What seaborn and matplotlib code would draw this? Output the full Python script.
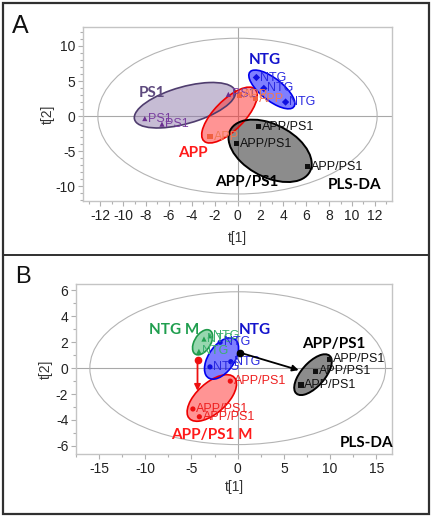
import numpy as np
import pandas as pd
import seaborn as sns
import matplotlib.pyplot as plt
from matplotlib.patches import Ellipse, Rectangle
from matplotlib.lines import Line2D
from matplotlib.ticker import MultipleLocator

# ---- panel A data (t[1], t[2] scores) ----
a_ntg_x = [1.65, 2.3, 4.2]
a_ntg_y = [5.5, 3.95, 2.0]
a_ps1_x = [-8.1, -6.6, -0.8]
a_ps1_y = [-0.35, -1.15, 3.1]
a_app_x = [-2.4, 0.15, 1.55]
a_app_y = [-2.95, 3.0, 2.5]
a_apps1_x = [1.85, -0.1, 6.1]
a_apps1_y = [-1.5, -3.95, -7.2]

# group ellipses: centre x, centre y, width, height, angle
a_ell_ntg = [3.0, 3.8, 6.4, 2.4, -57]
a_ell_ps1 = [-4.6, 1.55, 9.8, 4.9, 30]
a_ell_app = [-0.7, 0.15, 8.8, 3.1, 63]
a_ell_apps1 = [2.85, -4.95, 9.8, 6.0, -58]
a_hotelling = [24.4, 22.2]

# ---- panel B data ----
b_ntgm_x = [-3.0, -3.65, -4.2]
b_ntgm_y = [2.5, 2.25, 1.3]
b_ntg_x = [-1.9, -3.0, -0.75]
b_ntg_y = [2.0, 0.1, 0.5]
b_apps1m_x = [-0.8, -4.85, -4.15]
b_apps1m_y = [-1.0, -3.15, -3.75]
b_apps1_x = [9.9, 8.4, 6.85]
b_apps1_y = [0.7, -0.25, -1.3]

b_ell_ntgm = [-3.8, 2.0, 2.5, 1.5, 38]
b_ell_ntg = [-1.75, 0.75, 4.25, 2.4, 37]
b_ell_apps1m = [-2.8, -2.3, 5.9, 2.6, 28]
b_ell_apps1 = [8.15, -0.5, 4.7, 2.1, 34]
b_hotelling = [32.0, 11.8]

# arrows (start x, start y, end x, end y)
b_arrow_red = [-4.35, 0.6, -4.35, -1.75]
b_arrow_black = [0.25, 1.2, 6.6, -0.15]

sns.set_theme(style="white")
plt.rcParams['font.family'] = ['Liberation Sans', 'DejaVu Sans']
plt.rcParams['axes.unicode_minus'] = False

BOLD = ['Lato', 'DejaVu Sans']


def make_df(groups):
    rows = []
    for name, xs, ys in groups:
        for x, y in zip(xs, ys):
            rows.append({'group': name, 'x': x, 'y': y})
    return pd.DataFrame(rows)


def add_ellipse(ax, p, fc, ec, alpha, lw=1.2):
    ax.add_patch(Ellipse((p[0], p[1]), p[2], p[3], angle=p[4], fc=fc, alpha=alpha,
                         ec='none', zorder=2))
    ax.add_patch(Ellipse((p[0], p[1]), p[2], p[3], angle=p[4], fc='none', ec=ec,
                         lw=lw, zorder=2.1))


def style_axes(ax, xlim, ylim, xmaj, xmin, ymaj, ymin, hot):
    ax.set_xlim(*xlim)
    ax.set_ylim(*ylim)
    ax.xaxis.set_major_locator(MultipleLocator(xmaj))
    ax.xaxis.set_minor_locator(MultipleLocator(xmin))
    ax.yaxis.set_major_locator(MultipleLocator(ymaj))
    ax.yaxis.set_minor_locator(MultipleLocator(ymin))
    for s in ax.spines.values():
        s.set_color('#c4c4c4')
        s.set_linewidth(1.0)
    ax.tick_params(which='major', direction='out', length=3.5, width=0.8,
                   color='#b0b0b0', labelsize=10, labelcolor='#222222',
                   bottom=True, left=True, pad=2)
    ax.tick_params(which='minor', direction='out', length=2.5, width=0.8,
                   color='#b0b0b0', bottom=True, left=True)
    ax.axhline(0, color='#a8a8a8', lw=0.8, zorder=1)
    ax.axvline(0, color='#a8a8a8', lw=0.8, zorder=1)
    ax.add_patch(Ellipse((0, 0), hot[0], hot[1], fc='none', ec='#b4b4b4',
                         lw=0.8, zorder=1))


def set_labels(ax, xpos, ypos):
    ax.set_xlabel('t[1]', fontsize=10, color='#333333')
    ax.set_ylabel('t[2]', fontsize=10, color='#333333')
    ax.xaxis.set_label_coords(0.5, xpos)
    ax.yaxis.set_label_coords(ypos, 0.5)


def label_points(ax, xs, ys, text, color):
    for x, y in zip(xs, ys):
        ax.annotate(text, (x, y), xytext=(2.5, 0), textcoords='offset points',
                    ha='left', va='center', fontsize=9, color=color, zorder=4)


fig = plt.figure(figsize=(4.33, 5.19), dpi=100)

# ---------------- panel A ----------------
axA = fig.add_axes([83 / 433, 1 - 201 / 519, 309 / 433, 174 / 519])
style_axes(axA, (-13.5, 13.5), (-12.1, 12.7), 2, 1, 5, 1, a_hotelling)

add_ellipse(axA, a_ell_ps1, '#8f7aaa', '#4f3d6e', 0.5)
add_ellipse(axA, a_ell_app, '#ff2a2a', '#ee0000', 0.5)
add_ellipse(axA, a_ell_ntg, '#0000ff', '#0000ee', 0.5)
add_ellipse(axA, a_ell_apps1, '#3a3a3a', '#000000', 0.58, lw=1.4)

dfA = make_df([('NTG', a_ntg_x, a_ntg_y), ('PS1', a_ps1_x, a_ps1_y),
               ('APP', a_app_x, a_app_y), ('APP/PS1', a_apps1_x, a_apps1_y)])
palA = {'NTG': '#1010e0', 'PS1': '#6a2f8f', 'APP': '#f06040', 'APP/PS1': '#111111'}
mkA = {'NTG': 'D', 'PS1': '^', 'APP': 's', 'APP/PS1': 's'}
sns.scatterplot(data=dfA, x='x', y='y', hue='group', style='group', palette=palA,
                markers=mkA, s=14, linewidth=0, legend=False, ax=axA, zorder=3)
set_labels(axA, -0.172, -0.09)

label_points(axA, a_ntg_x, a_ntg_y, 'NTG', '#2a2ae0')
label_points(axA, a_ps1_x, a_ps1_y, 'PS1', '#7a3fa0')
label_points(axA, a_app_x, a_app_y, 'APP', '#f07a55')
label_points(axA, a_apps1_x, a_apps1_y, 'APP/PS1', '#111111')

for txt, x, y, c in [('NTG', 2.35, 8.0, '#1414cc'), ('PS1', -7.5, 3.3, '#5e4a7e'),
                     ('APP', -3.9, -5.3, '#ff1a1a'), ('APP/PS1', 0.8, -9.4, '#000000'),
                     ('PLS-DA', 10.2, -9.8, '#000000')]:
    axA.text(x, y, txt, ha='center', va='center', fontsize=11, fontweight='bold',
             family=BOLD, color=c, zorder=5)

# ---------------- panel B ----------------
axB = fig.add_axes([76 / 433, 1 - 454.3 / 519, 316 / 433, 170.3 / 519])
style_axes(axB, (-17.5, 16.7), (-6.65, 6.5), 5, 2.5, 2, 1, b_hotelling)

add_ellipse(axB, b_ell_ntgm, '#30b060', '#1f9a4a', 0.5)
add_ellipse(axB, b_ell_apps1m, '#ff2a2a', '#ee0000', 0.5)
add_ellipse(axB, b_ell_ntg, '#0000ff', '#0000ee', 0.5)
add_ellipse(axB, b_ell_apps1, '#3a3a3a', '#000000', 0.58, lw=1.4)

dfB = make_df([('NTG M', b_ntgm_x, b_ntgm_y), ('NTG', b_ntg_x, b_ntg_y),
               ('APP/PS1 M', b_apps1m_x, b_apps1m_y), ('APP/PS1', b_apps1_x, b_apps1_y)])
palB = {'NTG M': '#22a050', 'NTG': '#1010e0', 'APP/PS1 M': '#ee1010', 'APP/PS1': '#111111'}
mkB = {'NTG M': '^', 'NTG': 'o', 'APP/PS1 M': 'o', 'APP/PS1': 's'}
sns.scatterplot(data=dfB, x='x', y='y', hue='group', style='group', palette=palB,
                markers=mkB, s=14, linewidth=0, legend=False, ax=axB, zorder=3)
set_labels(axB, -0.151, -0.073)

label_points(axB, b_ntgm_x, b_ntgm_y, 'NTG', '#3cb070')
label_points(axB, b_ntg_x, b_ntg_y, 'NTG', '#2a2ae0')
label_points(axB, b_apps1m_x, b_apps1m_y, 'APP/PS1', '#ee2020')
label_points(axB, b_apps1_x, b_apps1_y, 'APP/PS1', '#111111')

for arr, c in [(b_arrow_red, '#ee1010'), (b_arrow_black, '#000000')]:
    axB.annotate('', xy=(arr[2], arr[3]), xytext=(arr[0], arr[1]),
                 arrowprops=dict(arrowstyle='-|>', color=c, lw=1.3,
                                 mutation_scale=9, shrinkA=0, shrinkB=0), zorder=4)
    axB.plot(arr[0], arr[1], 'o', color=c, ms=4.5, zorder=4)

for txt, x, y, c in [('NTG M', -6.85, 2.96, '#1f9e4e'), ('NTG', 1.87, 2.96, '#1414cc'),
                     ('APP/PS1', 10.35, 1.86, '#000000'),
                     ('APP/PS1 M', -2.8, -5.16, '#ff1a1a'),
                     ('PLS-DA', 13.96, -5.8, '#000000')]:
    axB.text(x, y, txt, ha='center', va='center', fontsize=11, fontweight='bold',
             family=BOLD, color=c, zorder=5)

# panel letters and frame
fig.text(12 / 433, 1 - 33 / 519, 'A', fontsize=18, color='#111111')
fig.text(15 / 433, 1 - 283 / 519, 'B', fontsize=17, color='#111111')
fig.add_artist(Rectangle((3 / 433, 1 - 514 / 519), 426 / 433, 511 / 519,
                         transform=fig.transFigure, fill=False, ec='#303030', lw=1.6))
fig.add_artist(Line2D([3 / 433, 429 / 433], [1 - 255 / 519] * 2,
                      transform=fig.transFigure, color='#303030', lw=1.4))

fig.savefig('out.png', dpi=100)
